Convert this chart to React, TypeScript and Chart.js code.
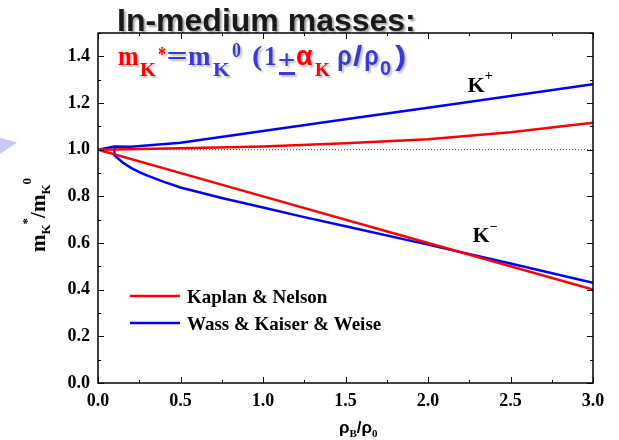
import React, { useEffect, useRef } from "react";
import { Chart, registerables } from "chart.js";

Chart.register(...registerables);

// ---- data ----
const xTickValues = [0, 0.5, 1.0, 1.5, 2.0, 2.5, 3.0];
const yTickValues = [0, 0.2, 0.4, 0.6, 0.8, 1.0, 1.2, 1.4];

const knKplusX = [0, 0.5, 1.0, 1.5, 2.0, 2.5, 3.0];
const knKplusY = [1.0, 1.006, 1.014, 1.027, 1.045, 1.075, 1.115];

const knKminusX = [0, 1.0, 2.0, 3.0];
const knKminusY = [1.0, 0.8, 0.6, 0.4];

const wkwKplusX = [0, 0.1, 0.2, 0.5, 1.0, 1.5, 2.0, 2.5, 3.0];
const wkwKplusY = [1.0, 1.014, 1.012, 1.03, 1.08, 1.13, 1.18, 1.23, 1.28];

const wkwKminusX = [0.1, 0.1, 0.15, 0.2, 0.25, 0.3, 0.4, 0.5, 0.75, 1.0, 1.25, 1.5, 2.0, 2.5, 3.0];
const wkwKminusY = [1.014, 0.975, 0.945, 0.922, 0.904, 0.889, 0.862, 0.838, 0.793, 0.752, 0.711, 0.672, 0.593, 0.512, 0.43];

const refLineX = [0, 3.0];
const refLineY = [1.0, 1.0];

const legendLabels = ["Kaplan & Nelson", "Wass & Kaiser & Weise"];
const seriesColors = ["#ff0000", "#0000ff"];

const zip = (xs: number[], ys: number[]) => xs.map((x, i) => ({ x, y: ys[i] }));

const SERIF = "'Liberation Serif', 'Times New Roman', serif";
const SANS = "'Liberation Sans', Arial, sans-serif";

type Seg = { t: string; size: number; family?: string; color: string; dy?: number };

function drawRich(ctx: CanvasRenderingContext2D, segs: Seg[], x: number, y: number) {
  let cx = x;
  for (const s of segs) {
    ctx.font = `bold ${s.size}px ${s.family || SERIF}`;
    ctx.fillStyle = s.color;
    ctx.fillText(s.t, cx, y + (s.dy || 0));
    cx += ctx.measureText(s.t).width;
  }
  return cx - x;
}

// glyph placed in a slot [x, x+w], stretched horizontally to fill it
type PSeg = { t: string; size: number; family?: string; color: string; x: number; w: number; y: number };
function drawPlaced(ctx: CanvasRenderingContext2D, segs: PSeg[]) {
  for (const s of segs) {
    ctx.font = `bold ${s.size}px ${s.family || SERIF}`;
    ctx.fillStyle = s.color;
    const m = ctx.measureText(s.t);
    const inkW = (m.actualBoundingBoxRight || m.width) + (m.actualBoundingBoxLeft || 0);
    const sx = Math.max(0.8, Math.min(1.6, s.w / inkW));
    ctx.save();
    ctx.translate(s.x + (m.actualBoundingBoxLeft || 0) * sx, s.y);
    ctx.scale(sx, 1);
    ctx.fillText(s.t, 0, 0);
    ctx.restore();
  }
}

const decorPlugin = {
  id: "decor",
  afterDraw(chart: any) {
    const ctx: CanvasRenderingContext2D = chart.ctx;
    const { left, right, top, bottom } = chart.chartArea;
    const xs = chart.scales.x;
    const ys = chart.scales.y;
    ctx.save();
    // frame
    ctx.strokeStyle = "#000";
    ctx.lineWidth = 1.5;
    ctx.strokeRect(left, top, right - left, bottom - top);
    // ticks (inward)
    ctx.lineWidth = 1;
    ctx.beginPath();
    for (let v = 0; v <= 3.0001; v += 0.25) {
      const px = Math.round(xs.getPixelForValue(v)) + 0.5;
      const major = Math.abs(v * 2 - Math.round(v * 2)) < 1e-6;
      const len = major ? 6 : 3;
      ctx.moveTo(px, bottom);
      ctx.lineTo(px, bottom - len);
      ctx.moveTo(px, top);
      ctx.lineTo(px, top + len);
    }
    for (let i = 0; i <= 15; i++) {
      const v = i / 10;
      const py = Math.round(ys.getPixelForValue(v)) + 0.5;
      const major = i % 2 === 0;
      const len = major ? 6 : 3;
      ctx.moveTo(left, py);
      ctx.lineTo(left + len, py);
      ctx.moveTo(right, py);
      ctx.lineTo(right - len, py);
    }
    ctx.stroke();

    ctx.textBaseline = "alphabetic";
    ctx.textAlign = "left";

    // K labels
    drawRich(ctx, [
      { t: "K", size: 22, color: "#000" },
      { t: "+", size: 14, color: "#000", dy: -12 },
    ], xs.getPixelForValue(2.24), ys.getPixelForValue(1.249));
    drawRich(ctx, [
      { t: "K", size: 22, color: "#000" },
      { t: "\u2212", size: 14, color: "#000", dy: -11 },
    ], xs.getPixelForValue(2.27), ys.getPixelForValue(0.603));

    // legend
    const lx0 = 130, lx1 = 180;
    const rows = [296, 323];
    legendLabels.forEach((lab, i) => {
      ctx.strokeStyle = seriesColors[i];
      ctx.lineWidth = 2.5;
      ctx.beginPath();
      ctx.moveTo(lx0, rows[i]);
      ctx.lineTo(lx1, rows[i]);
      ctx.stroke();
      ctx.font = `bold 19px ${SERIF}`;
      ctx.fillStyle = "#000";
      ctx.fillText(lab, 187, rows[i] + 7);
    });

    // axis titles
    ctx.save();
    ctx.translate(45, 252);
    ctx.rotate(-Math.PI / 2);
    drawRich(ctx, [
      { t: "m", size: 21, color: "#000" },
      { t: "K", size: 13, color: "#000", dy: 5 },
      { t: "*", size: 13, color: "#000", dy: -14 },
      { t: "/m", size: 21, color: "#000" },
      { t: "K", size: 13, color: "#000", dy: 5 },
      { t: "0", size: 13, color: "#000", dy: -14 },
    ], 0, 0);
    ctx.restore();

    drawRich(ctx, [
      { t: "\u03c1", size: 17, family: SANS, color: "#000" },
      { t: "B", size: 11, color: "#000", dy: 4 },
      { t: "/", size: 17, family: SANS, color: "#000" },
      { t: "\u03c1", size: 17, family: SANS, color: "#000" },
      { t: "0", size: 11, color: "#000", dy: 4 },
    ], 339, 433);

    // title
    ctx.save();
    ctx.shadowColor = "rgba(0,0,0,0.35)";
    ctx.shadowOffsetX = 2;
    ctx.shadowOffsetY = 2;
    ctx.shadowBlur = 2;
    ctx.font = `bold 32px ${SANS}`;
    ctx.fillStyle = "#1a1a1a";
    ctx.fillText("In-medium masses:", 117, 31);

    // formula
    const red = "#ff0000";
    const blue = "#3a3ad0";
    ctx.shadowColor = "rgba(0,0,0,0.25)";
    drawPlaced(ctx, [
      { t: "m", size: 27, color: red, x: 118, w: 21, y: 65 },
      { t: "K", size: 19, color: red, x: 140, w: 16, y: 76 },
      { t: "*", size: 20, color: red, x: 158, w: 8, y: 61 },
      { t: "=", size: 27, color: blue, x: 168, w: 18, y: 65 },
      { t: "m", size: 27, color: blue, x: 188, w: 23, y: 65 },
      { t: "K", size: 19, color: blue, x: 213, w: 17, y: 76 },
      { t: "0", size: 20, color: blue, x: 232, w: 9, y: 57 },
      { t: "(", size: 27, color: blue, x: 253, w: 9, y: 65 },
      { t: "1", size: 27, color: blue, x: 266, w: 10, y: 65 },
      { t: "+", size: 27, color: blue, x: 279, w: 15, y: 69 },
      { t: "\u03b1", size: 27, family: SANS, color: red, x: 297, w: 16, y: 65 },
      { t: "K", size: 19, color: red, x: 315, w: 15, y: 76 },
      { t: "\u03c1", size: 27, family: SANS, color: blue, x: 338, w: 13, y: 65 },
      { t: "/", size: 27, family: SANS, color: blue, x: 353, w: 10, y: 65 },
      { t: "\u03c1", size: 27, family: SANS, color: blue, x: 365, w: 13, y: 65 },
      { t: "0", size: 20, family: SANS, color: blue, x: 380, w: 11, y: 75 },
      { t: ")", size: 27, family: SANS, color: blue, x: 395, w: 10, y: 65 },
    ]);
    ctx.fillStyle = blue;
    ctx.fillRect(279, 72, 16, 3);
    ctx.restore();

    ctx.restore();
  },
};

export default function App() {
  const ref = useRef<HTMLCanvasElement | null>(null);

  useEffect(() => {
    document.body.style.margin = "0";
    const canvas = ref.current!;
    const lineBase = { pointRadius: 0, borderWidth: 2.5, tension: 0, fill: false };
    const chart = new Chart(canvas, {
      type: "line",
      data: {
        datasets: [
          { ...lineBase, label: "ref", data: zip(refLineX, refLineY), borderColor: "#555", borderWidth: 1, borderDash: [1, 2] },
          { ...lineBase, label: legendLabels[0] + " K+", data: zip(knKplusX, knKplusY), borderColor: seriesColors[0] },
          { ...lineBase, label: legendLabels[0] + " K-", data: zip(knKminusX, knKminusY), borderColor: seriesColors[0] },
          { ...lineBase, label: legendLabels[1] + " K+", data: zip(wkwKplusX, wkwKplusY), borderColor: seriesColors[1] },
          { ...lineBase, label: legendLabels[1] + " K-", data: zip(wkwKminusX, wkwKminusY), borderColor: seriesColors[1] },
        ],
      },
      options: {
        responsive: false,
        animation: false,
        devicePixelRatio: 1,
        layout: { padding: { left: 0, right: 26, top: 33, bottom: 0 } },
        plugins: { legend: { display: false }, tooltip: { enabled: false }, title: { display: false } },
        scales: {
          x: {
            type: "linear",
            min: 0,
            max: 3,
            grid: { display: false, drawTicks: false },
            border: { display: false },
            afterFit: (s: any) => { s.height = 57; },
            afterBuildTicks: (s: any) => { s.ticks = xTickValues.map((v) => ({ value: v })); },
            ticks: {
              padding: 8,
              color: "#000",
              font: { family: SERIF, size: 18, weight: "bold" },
              callback: (v: any) => Number(v).toFixed(1),
              maxRotation: 0,
            },
          },
          y: {
            type: "linear",
            min: 0,
            max: 1.5,
            grid: { display: false, drawTicks: false },
            border: { display: false },
            afterFit: (s: any) => { s.width = 98; },
            afterBuildTicks: (s: any) => { s.ticks = yTickValues.map((v) => ({ value: v })); },
            ticks: {
              padding: 8,
              color: "#000",
              font: { family: SERIF, size: 18, weight: "bold" },
              callback: (v: any) => Number(v).toFixed(1),
            },
          },
        },
      },
      plugins: [decorPlugin],
    } as any);
    return () => chart.destroy();
  }, []);

  return (
    <div style={{ position: "fixed", left: 0, top: 0, width: 619, height: 440, background: "#fff" }}>
      <div
        style={{
          position: "absolute",
          left: -6,
          top: 136,
          width: 23,
          height: 22,
          background: "#c8c8f6",
          clipPath: "polygon(0 0, 100% 30%, 0 100%)",
        }}
      />
      <canvas ref={ref} width={619} height={440} style={{ position: "absolute", left: 0, top: 0 }} />
    </div>
  );
}
